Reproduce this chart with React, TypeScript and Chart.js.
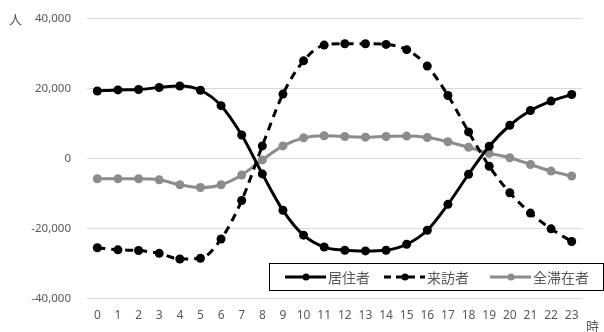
import React, { useEffect, useRef } from "react";
import { Chart, registerables } from "chart.js";

Chart.register(...registerables);

const hours = ["0","1","2","3","4","5","6","7","8","9","10","11","12","13","14","15","16","17","18","19","20","21","22","23"];
const residents = [19300, 19600, 19700, 20300, 20700, 19500, 15100, 6700, -4400, -14800, -21900, -25300, -26200, -26400, -26200, -24500, -20500, -13100, -4500, 3500, 9500, 13700, 16400, 18300];
const visitors = [-25500, -26100, -26300, -27100, -28700, -28500, -23000, -12000, 3600, 18400, 27900, 32400, 32800, 32800, 32600, 31100, 26400, 18000, 7600, -2200, -9800, -15600, -20100, -23700];
const totals = [-5800, -5800, -5800, -6100, -7500, -8300, -7500, -4700, -400, 3600, 5900, 6500, 6300, 6100, 6300, 6400, 6000, 4800, 3200, 1500, 200, -1700, -3600, -5000];
const seriesNames = ["居住者", "来訪者", "全滞在者"];
const yTitle = "人";
const xTitle = "時";

const FONT = "'Noto Sans', 'Noto Sans CJK JP', sans-serif";
const JPFONT = "'Noto Sans CJK JP', sans-serif";

const extrasPlugin = {
  id: "extras",
  afterDraw(chart: any) {
    const ctx = chart.ctx;
    ctx.save();
    ctx.fillStyle = "#595959";
    ctx.font = `13px ${JPFONT}`;
    ctx.textBaseline = "middle";
    ctx.textAlign = "left";
    ctx.fillText(yTitle, 9, 19);
    ctx.fillText(xTitle, 586, 326);

    const bx = 269.5, by = 263.5, bw = 334, bh = 27;
    ctx.fillStyle = "#ffffff";
    ctx.fillRect(bx, by, bw, bh);
    ctx.strokeStyle = "#000000";
    ctx.lineWidth = 1;
    ctx.strokeRect(bx, by, bw, bh);

    const items = chart.data.datasets.map((d: any, i: number) => ({
      label: d.label,
      color: d.borderColor,
      dash: d.borderDash || [],
      x: [285, 384, 490][i],
    }));
    const cy = by + bh / 2;
    items.forEach((it: any) => {
      ctx.strokeStyle = it.color;
      ctx.lineWidth = 3;
      ctx.setLineDash(it.dash.length ? [7, 5] : []);
      ctx.beginPath();
      ctx.moveTo(it.x, cy);
      ctx.lineTo(it.x + 41, cy);
      ctx.stroke();
      ctx.setLineDash([]);
      ctx.fillStyle = it.color;
      ctx.beginPath();
      ctx.arc(it.x + 21, cy, 3.5, 0, Math.PI * 2);
      ctx.fill();
      ctx.fillStyle = "#595959";
      ctx.font = `14px ${JPFONT}`;
      ctx.textAlign = "left";
      ctx.textBaseline = "middle";
      ctx.fillText(it.label, it.x + 43, cy + 1);
    });
    ctx.restore();
  },
};

export default function App() {
  const ref = useRef<HTMLCanvasElement>(null);
  useEffect(() => {
    if (!ref.current) return;
    const chart = new Chart(ref.current, {
      type: "line",
      data: {
        labels: hours,
        datasets: [
          { label: seriesNames[0], data: residents, borderColor: "#000000", backgroundColor: "#000000", borderWidth: 3, pointRadius: 4.5, pointBackgroundColor: "#000000", pointBorderWidth: 0, cubicInterpolationMode: "monotone" },
          { label: seriesNames[1], data: visitors, borderColor: "#000000", backgroundColor: "#000000", borderWidth: 3, borderDash: [8, 6], pointRadius: 4.5, pointBackgroundColor: "#000000", pointBorderWidth: 0, cubicInterpolationMode: "monotone" },
          { label: seriesNames[2], data: totals, borderColor: "#8c8c8c", backgroundColor: "#8c8c8c", borderWidth: 3, pointRadius: 4.5, pointBackgroundColor: "#8c8c8c", pointBorderWidth: 0, cubicInterpolationMode: "monotone" },
        ],
      },
      options: {
        responsive: false,
        animation: false,
        layout: { padding: { top: 18.5, right: 22, left: 0, bottom: 0 } },
        plugins: { legend: { display: false }, tooltip: { enabled: false } },
        scales: {
          x: {
            offset: true,
            grid: { display: false, drawTicks: false },
            border: { display: false },
            ticks: { color: "#595959", font: { family: FONT, size: 12 }, padding: 10, maxRotation: 0, autoSkip: false },
            afterFit: (s: any) => { s.height = 33.5; },
          },
          y: {
            min: -40000,
            max: 40000,
            grid: { color: "#d9d9d9", lineWidth: 1, drawTicks: false },
            border: { display: false },
            ticks: { stepSize: 20000, color: "#595959", font: { family: FONT, size: 11.5 }, padding: 16, callback: (v: any) => Number(v).toLocaleString("en-US") },
            afterFit: (s: any) => { s.width = 87; s.paddingTop = 0; s.paddingBottom = 0; },
          },
        },
      },
      plugins: [extrasPlugin],
    });
    return () => chart.destroy();
  }, []);
  return (
    <div style={{ position: "fixed", left: 0, top: 0, width: 604, height: 332, background: "#fff" }}>
      <canvas ref={ref} width={604} height={332} style={{ width: 604, height: 332 }} />
    </div>
  );
}
